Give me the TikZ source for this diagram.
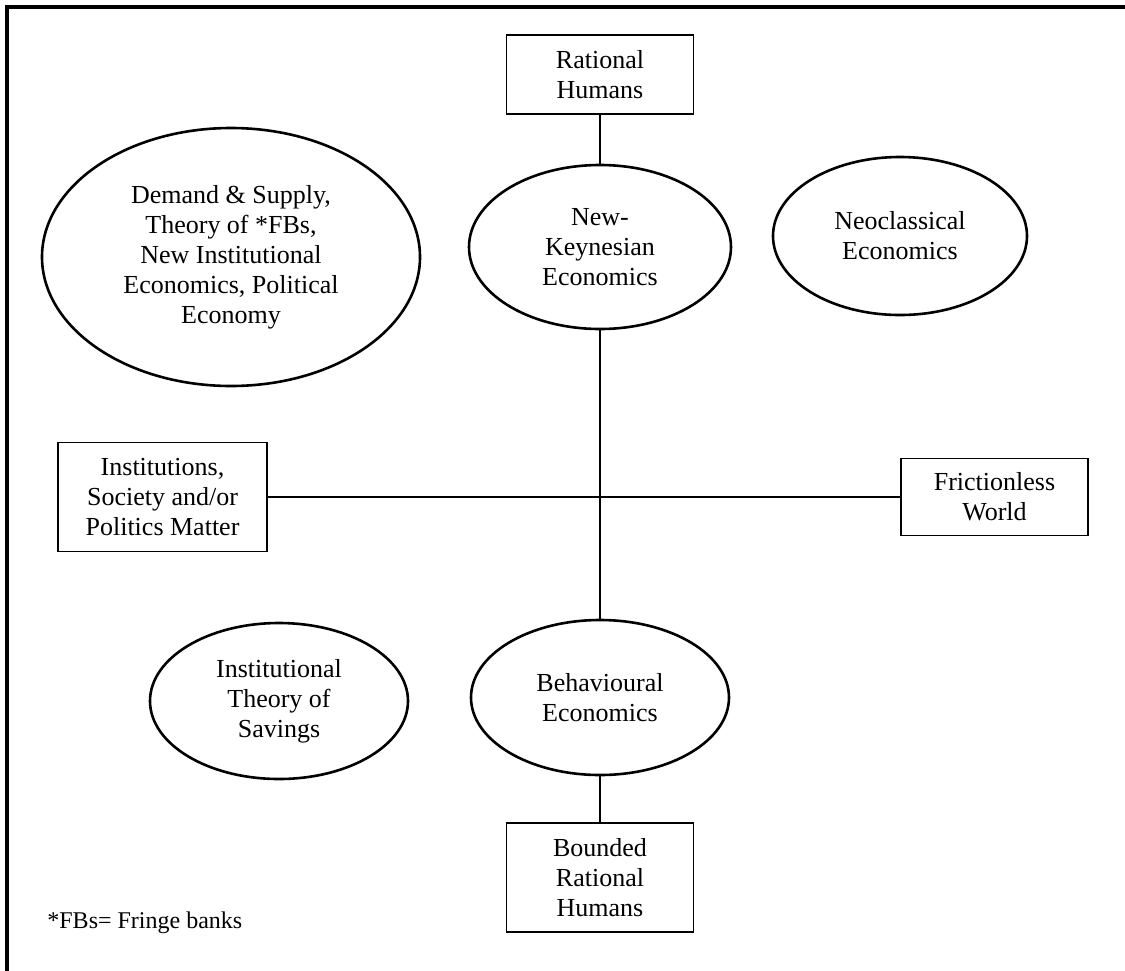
\documentclass[tikz,border=0pt]{standalone}
\usepackage{fontspec}
\setmainfont{Liberation Serif}
\usetikzlibrary{shapes.geometric}
\begin{document}
\begin{tikzpicture}[x=0.5pt,y=-0.5pt,
  lbl/.style={font=\fontsize{13pt}{15pt}\selectfont, align=center},
  oval/.style={lbl, ellipse, draw, line width=1.3pt, inner sep=0pt},
  card/.style={lbl, rectangle, draw, line width=0.6pt, inner sep=0pt},
  link/.style={line width=0.9pt}]
\useasboundingbox (0,0) rectangle (1125,970);
% open frame along the top and left edges
\draw[line width=1.8pt] (7,985) -- (7,7) -- (1140,7);

% boxes
\node[card, minimum width=93.5pt, minimum height=39.5pt] (rh) at (600,74.5) {Rational\\Humans};
\node[card, minimum width=104.5pt, minimum height=54.5pt] (inst) at (162.5,497) {Institutions,\\Society and/or\\Politics Matter};
\node[card, minimum width=93.5pt, minimum height=38.5pt] (fric) at (994.5,497) {Frictionless\\World};
\node[card, minimum width=93.5pt, minimum height=54.5pt] (brh) at (600,877.5) {Bounded\\Rational\\Humans};

% ovals
\node[oval, minimum width=189pt, minimum height=129pt] (ds) at (231,257) {Demand \& Supply,\\Theory of *FBs,\\New Institutional\\Economics, Political\\Economy};
\node[oval, minimum width=131pt, minimum height=82pt] (nk) at (600,247) {New-\\Keynesian\\Economics};
\node[oval, minimum width=127pt, minimum height=79pt] (neo) at (900,236) {Neoclassical\\Economics};
\node[oval, minimum width=129pt, minimum height=78pt] (its) at (279,701) {Institutional\\Theory of\\Savings};
\node[oval, minimum width=129pt, minimum height=77.5pt] (be) at (600,697.5) {Behavioural\\Economics};

% footnote
\node[anchor=west, inner sep=0pt, font=\fontsize{12pt}{14pt}\selectfont] (note) at (47,923) {*FBs= Fringe banks};

% connectors
\draw[link] (rh.south) -- (nk.north);
\draw[link] (nk.south) -- (be.north);
\draw[link] (inst.east) -- (fric.west);
\draw[link] (be.south) -- (brh.north);
\end{tikzpicture}
\end{document}
